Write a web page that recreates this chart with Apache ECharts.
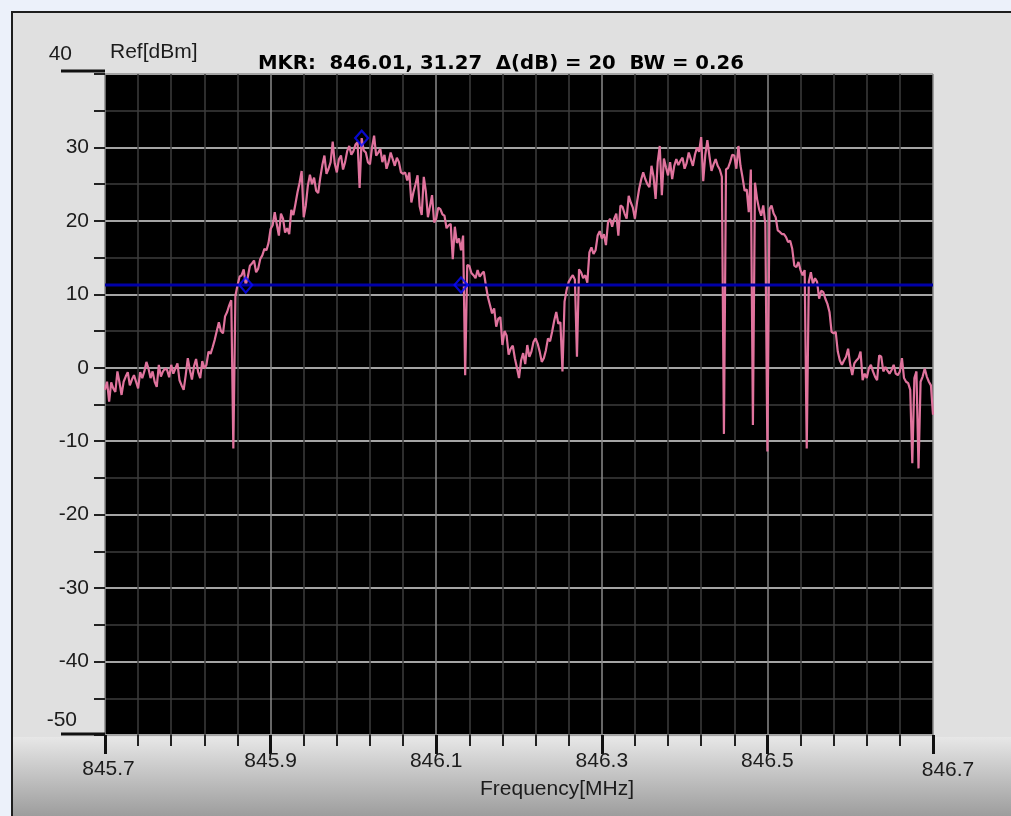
<!DOCTYPE html>
<html>
<head>
<meta charset="utf-8">
<title>Spectrum trace</title>
<script src="https://cdn.jsdelivr.net/npm/echarts@6/dist/echarts.min.js"></script>
<style>
  html, body { margin: 0; padding: 0; background: #ecf1fa; overflow: hidden; }
  #stage { position: relative; width: 1011px; height: 816px; }
  /* instrument panel with the darker shading below the plot */
  #panel {
    position: absolute; left: 11px; top: 11px; width: 1010px; height: 815px;
    box-sizing: border-box;
    border-left: 2px solid #1e1e1e; border-top: 2px solid #1e1e1e;
    background-origin: border-box;
    background: linear-gradient(to bottom,
      #e0e0e0 0px, #e0e0e0 724px, #e7e7e7 724px, #9b9b9b 805px);
  }
  #chart { position: absolute; left: 0; top: 0; width: 1011px; height: 816px; }
</style>
</head>
<body>
<div id="stage">
  <div id="panel"></div>
  <div id="chart"></div>
</div>
<script>
// Sweep span
const START_MHZ = 845.7;
const STOP_MHZ = 846.7;
const STEP_MHZ = 0.0025;

// Amplitude axis span
const REF_MIN_DBM = -50;
const REF_MAX_DBM = 40;

// Measured trace, one reading (dBm) per sweep step
const TRACE_DBM = [
  -3.0, -1.9, -4.6, -2.0, -2.8, -3.3, -0.5, -2.0, -3.7, -1.9,
  -1.2, -0.6, -2.4, -1.6, -1.0, -1.9, -2.8, -0.6, -1.4, -0.5,
   0.8, -0.1, -1.4, -0.5, -1.9, -2.6,  0.4, -1.2, -0.5, -0.1,
  -0.3, -1.3,  0.4, -0.8, -0.1,  0.6, -1.7, -2.4, -3.0, -1.0,
   1.3, -0.3, -1.6,  0.2,  1.2, -0.6, -1.4,  0.9, -0.1,  0.4,
   2.2,  1.9,  2.8,  3.8,  5.0,  6.2,  5.0,  4.7,  7.0,  7.6,
   8.5,  9.2, -11.0, 9.8, 11.2, 12.4, 12.6, 13.4, 11.27, 12.4,
  13.9, 14.2, 14.6, 13.0, 13.5, 14.8, 15.3, 16.2, 16.0, 17.0,
  18.9, 19.4, 21.2, 19.5, 18.0, 21.0, 20.3, 18.4, 19.0, 18.2,
  21.5, 20.8, 22.3, 23.9, 25.2, 26.8, 20.5, 22.1, 24.8, 26.3,
  25.0, 25.9, 24.1, 23.8, 25.9, 27.6, 28.9, 26.4, 27.1, 28.0,
  30.8, 27.8, 26.6, 28.4, 28.9, 27.0, 28.0, 29.5, 30.2, 29.0,
  29.5, 30.4, 30.7, 24.5, 31.27, 29.6, 29.3, 28.0, 27.7, 30.0,
  31.6, 28.9, 29.3, 29.8, 28.0, 29.0, 27.1, 28.0, 29.3, 28.4,
  27.5, 28.6, 28.0, 26.6, 26.4, 26.6, 25.5, 26.6, 22.5, 23.9,
  25.0, 26.2, 22.0, 20.8, 26.0, 24.0, 20.5, 22.0, 23.5, 19.8,
  20.3, 21.8, 21.6, 20.9, 20.7, 19.0, 19.4, 19.6, 14.8, 19.2,
  17.0, 17.6, 16.0, 18.0, -1.0, 14.0, 13.9, 12.9, 12.6, 12.2,
  13.3, 12.4, 12.8, 13.1, 11.2,  9.6,  8.5,  7.4,  8.1,  5.6,
   6.7,  6.9,  3.1,  5.0,  4.4,  1.8,  2.6,  3.0,  1.3,  0.0,
  -1.4,  1.0,  2.0,  0.5,  3.1,  1.5,  2.2,  3.5,  4.0,  3.3,
   2.2,  0.8,  1.3,  2.4,  4.0,  3.6,  4.9,  6.4,  7.6,  6.0,
   6.2, -0.5,  9.0, 10.6, 11.7, 12.2, 12.6, 12.0,  1.5, 13.4,
  13.0, 12.2, 12.6, 11.6, 15.7, 16.4, 15.5, 16.0, 18.0, 18.6,
  17.6, 18.2, 16.7, 19.8, 20.3, 19.2, 20.3, 21.0, 18.0, 22.1,
  21.9, 21.0, 20.3, 23.4, 22.5, 21.8, 20.3, 22.5, 24.3, 25.6,
  26.6, 25.7, 25.0, 24.6, 27.5, 26.0, 23.0, 28.0, 30.2, 23.5,
  28.5, 27.3, 26.2, 28.0, 25.7, 27.5, 28.4, 27.6, 28.2, 28.6,
  27.1, 27.9, 29.3, 28.4, 27.5, 29.0, 30.0, 29.4, 31.4, 25.4,
  29.0, 31.0, 28.8, 26.8, 27.7, 28.4, 27.5, 27.0, 26.0, -9.0,
  27.0, 27.2, 28.0, 29.0, 28.9, 27.1, 30.2, 27.5, 25.9, 24.1,
  24.3, 21.2, 27.0, -7.8, 25.2, 23.0, 21.6, 20.7, 22.1, 19.6,
 -11.4, 21.6, 22.1, 21.0, 20.5, 18.7, 18.5, 18.2, 18.2, 17.8,
  17.1, 17.3, 16.2, 13.9, 13.7, 14.4, 13.3, 12.6, 13.3, -11.0,
  11.7, 13.0, 11.4, 12.2, 11.7,  9.4, 10.5, 10.3,  9.4,  8.7,
   7.6,  4.9,  4.7,  4.9,  2.2,  1.0,  0.4,  1.0,  1.5,  2.6,
   0.4, -1.0,  0.6,  1.0,  1.3,  2.2, -1.7, -0.8, -1.4, -0.1,
   0.4, -0.5, -1.2, -1.7,  1.7,  1.5, -0.5,  0.1, -0.4, -0.8,
  -0.3,  0.4, -0.8, -1.0, -0.5,  1.3, -1.4, -1.9, -2.1, -3.0,
 -13.0, -1.4, -0.5, -13.7, -1.9, -1.2, -0.1, -1.2, -1.9, -2.4,
  -6.4
];

// Marker readout: peak, and the two edges where the trace is DELTA_DB below it
const PEAK_MHZ = 846.01;
const PEAK_DBM = 31.27;
const DELTA_DB = 20;
const EDGE_MHZ = [845.87, 846.13];

const EDGE_DBM = +(PEAK_DBM - DELTA_DB).toFixed(2);
const BANDWIDTH = (EDGE_MHZ[1] - EDGE_MHZ[0]).toFixed(2);

const FREQ_MHZ = TRACE_DBM.map((_, i) => +(START_MHZ + i * STEP_MHZ).toFixed(4));
const traceData = TRACE_DBM.map((v, i) => [FREQ_MHZ[i], v]);
const markerData = [
  [EDGE_MHZ[0], EDGE_DBM],
  [PEAK_MHZ, PEAK_DBM],
  [EDGE_MHZ[1], EDGE_DBM]
];
const levelData = [[START_MHZ, EDGE_DBM], [STOP_MHZ, EDGE_DBM]];

const titleText = 'MKR:  ' + PEAK_MHZ.toFixed(2) + ', ' + PEAK_DBM.toFixed(2) +
  '  \u0394(dB) = ' + DELTA_DB + '  BW = ' + BANDWIDTH;

const FONT = '"Liberation Sans", Arial, sans-serif';
const LABEL_COLOR = '#1c1c1c';
const LABEL_SIZE = 21;

const GRID = { left: 105, top: 74, right: 78, bottom: 81 };

const chart = echarts.init(document.getElementById('chart'), null, { renderer: 'canvas' });

chart.setOption({
  animation: false,
  backgroundColor: 'transparent',
  title: {
    text: titleText,
    left: 258,
    top: 54,
    padding: 0,
    textStyle: {
      fontFamily: '"DejaVu Sans", sans-serif',
      fontWeight: 'bold',
      fontSize: 19.7,
      color: '#000'
    }
  },
  grid: {
    left: GRID.left, top: GRID.top, right: GRID.right, bottom: GRID.bottom,
    show: true,
    backgroundColor: '#000000',
    borderWidth: 0,
    z: 0
  },
  xAxis: {
    type: 'value',
    z: 1,
    min: START_MHZ,
    max: STOP_MHZ,
    interval: 0.2,
    name: 'Frequency[MHz]',
    nameLocation: 'middle',
    nameGap: 44,
    nameMoveOverlap: false,
    nameTextStyle: {
      fontFamily: FONT, fontSize: LABEL_SIZE, color: LABEL_COLOR,
      padding: [0, 0, 0, 76]
    },
    axisLine: { show: false, onZero: false },
    axisTick: { show: true, length: 19, lineStyle: { color: '#111', width: 3 } },
    minorTick: { show: true, splitNumber: 5, length: 11, lineStyle: { color: '#222', width: 2 } },
    splitLine: { show: true, lineStyle: { color: '#8a8a8a', width: 1.5 } },
    minorSplitLine: { show: true, lineStyle: { color: '#3c3c3c', width: 1.5 } },
    axisLabel: {
      margin: 16,
      fontFamily: FONT, fontSize: LABEL_SIZE, color: LABEL_COLOR,
      formatter: function (v) {
        const s = v.toFixed(1);
        if (Math.abs(v - START_MHZ) < 1e-6) return '{lo|' + s + '}';
        if (Math.abs(v - STOP_MHZ) < 1e-6) return '{hi|' + s + '}';
        return s;
      },
      rich: {
        lo: { fontFamily: FONT, fontSize: LABEL_SIZE, color: LABEL_COLOR, padding: [8, 0, 0, 7] },
        hi: { fontFamily: FONT, fontSize: LABEL_SIZE, color: LABEL_COLOR, padding: [9, 0, 0, 30] }
      }
    }
  },
  yAxis: {
    type: 'value',
    z: 1,
    min: REF_MIN_DBM,
    max: REF_MAX_DBM,
    interval: 10,
    name: 'Ref[dBm]',
    nameLocation: 'end',
    nameGap: 11,
    nameMoveOverlap: false,
    nameTextStyle: {
      fontFamily: FONT, fontSize: LABEL_SIZE, color: LABEL_COLOR,
      align: 'left', padding: [0, 0, 0, 5]
    },
    axisLine: { show: false, onZero: false },
    axisTick: { show: true, length: 11, lineStyle: { color: '#222', width: 2 } },
    minorTick: { show: true, splitNumber: 2, length: 11, lineStyle: { color: '#222', width: 2 } },
    splitLine: { show: true, lineStyle: { color: '#a4a4a4', width: 2 } },
    minorSplitLine: { show: true, lineStyle: { color: '#3c3c3c', width: 1.5 } },
    axisLabel: {
      margin: 16,
      fontFamily: FONT, fontSize: LABEL_SIZE, color: LABEL_COLOR,
      formatter: function (v) {
        if (v === REF_MAX_DBM) return '{top|' + v + '}';
        if (v === REF_MIN_DBM) return '{bot|' + v + '}';
        return String(v);
      },
      rich: {
        top: { fontFamily: FONT, fontSize: LABEL_SIZE, color: LABEL_COLOR, padding: [0, 17, 40, 0] },
        bot: { fontFamily: FONT, fontSize: LABEL_SIZE, color: LABEL_COLOR, padding: [0, 12, 30, 0] }
      }
    }
  },
  series: [
    {
      name: 'Trace',
      type: 'line',
      data: traceData,
      showSymbol: false,
      symbol: 'none',
      lineStyle: { color: '#e0739d', width: 2.2 },
      z: 3
    },
    {
      name: 'Level',
      type: 'line',
      data: levelData,
      showSymbol: false,
      symbol: 'none',
      lineStyle: { color: '#0000a8', width: 3 },
      z: 4
    },
    {
      name: 'Markers',
      type: 'scatter',
      data: markerData,
      symbol: 'diamond',
      symbolSize: [13, 15],
      itemStyle: { color: 'rgba(0,0,0,0)', borderColor: '#0a0aff', borderWidth: 2.2 },
      z: 5
    }
  ]
});

// Long end ticks of the amplitude scale
const topPt = chart.convertToPixel({ gridIndex: 0 }, [START_MHZ, REF_MAX_DBM]);
const botPt = chart.convertToPixel({ gridIndex: 0 }, [START_MHZ, REF_MIN_DBM]);

chart.setOption({
  graphic: {
    elements: [
      {
        type: 'line', id: 'tickTop', z: 10, silent: true,
        shape: { x1: 61, y1: topPt[1] - 3, x2: topPt[0], y2: topPt[1] - 3 },
        style: { stroke: '#111', lineWidth: 3 }
      },
      {
        type: 'line', id: 'tickBottom', z: 10, silent: true,
        shape: { x1: 61, y1: botPt[1] - 1, x2: botPt[0], y2: botPt[1] - 1 },
        style: { stroke: '#111', lineWidth: 3 }
      }
    ]
  }
});
</script>
</body>
</html>
